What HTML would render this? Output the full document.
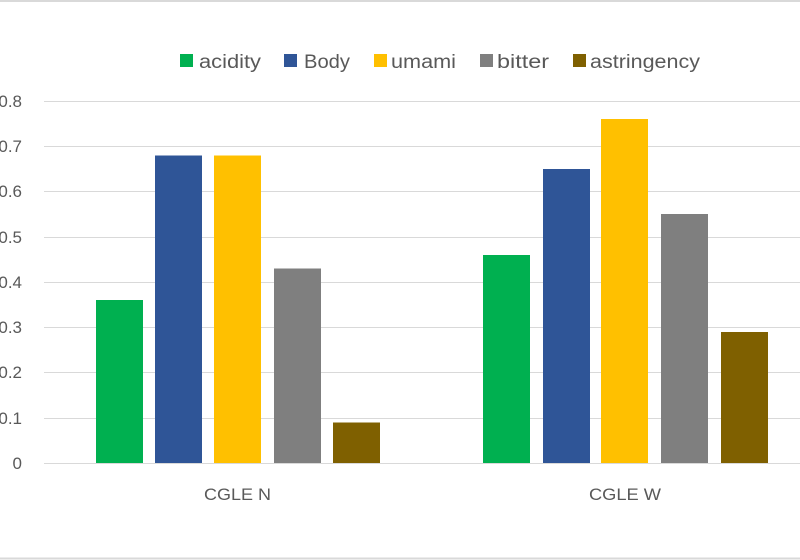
<!DOCTYPE html>
<html><head><meta charset="utf-8"><style>
html,body{margin:0;padding:0;background:#fff;}
svg{display:block;font-family:"Liberation Sans",sans-serif;}
</style></head><body>
<svg width="800" height="560" viewBox="0 0 800 560" xmlns="http://www.w3.org/2000/svg">
<rect x="0" y="0" width="800" height="560" fill="#fff"/>
<line x1="0" y1="1" x2="800" y2="1" stroke="#d9d9d9" stroke-width="2"/>
<line x1="0" y1="558.5" x2="800" y2="558.5" stroke="#d9d9d9" stroke-width="2"/>
<g stroke="#d9d9d9" stroke-width="1">
<line x1="44" x2="800" y1="101.5" y2="101.5"/>
<line x1="44" x2="800" y1="146.5" y2="146.5"/>
<line x1="44" x2="800" y1="191.5" y2="191.5"/>
<line x1="44" x2="800" y1="237.5" y2="237.5"/>
<line x1="44" x2="800" y1="282.5" y2="282.5"/>
<line x1="44" x2="800" y1="327.5" y2="327.5"/>
<line x1="44" x2="800" y1="372.5" y2="372.5"/>
<line x1="44" x2="800" y1="418.5" y2="418.5"/>
<line x1="44" x2="800" y1="463.5" y2="463.5"/>
</g>
<g font-size="17" fill="#595959" text-anchor="end">
<text x="22" y="107">0.8</text>
<text x="22" y="152">0.7</text>
<text x="22" y="197">0.6</text>
<text x="22" y="243">0.5</text>
<text x="22" y="288">0.4</text>
<text x="22" y="333">0.3</text>
<text x="22" y="378">0.2</text>
<text x="22" y="424">0.1</text>
<text x="22" y="469">0</text>
</g>
<g>
<rect x="96" y="300" width="47" height="163" fill="#00b050"/>
<rect x="155" y="155.5" width="47" height="307.5" fill="#2f5597"/>
<rect x="214" y="155.5" width="47" height="307.5" fill="#ffc000"/>
<rect x="274" y="268.5" width="47" height="194.5" fill="#7f7f7f"/>
<rect x="333" y="422.5" width="47" height="40.5" fill="#7f6000"/>
<rect x="483" y="255" width="47" height="208" fill="#00b050"/>
<rect x="543" y="169" width="47" height="294" fill="#2f5597"/>
<rect x="601" y="119" width="47" height="344" fill="#ffc000"/>
<rect x="661" y="214" width="47" height="249" fill="#7f7f7f"/>
<rect x="721" y="332" width="47" height="131" fill="#7f6000"/>
</g>
<g font-size="17" fill="#595959">
<text x="204" y="500" textLength="67" lengthAdjust="spacingAndGlyphs">CGLE N</text>
<text x="589" y="500" textLength="72" lengthAdjust="spacingAndGlyphs">CGLE W</text>
</g>
<g font-size="19" fill="#595959">
<rect x="180" y="54" width="13" height="13" fill="#00b050"/><text x="199" y="68" textLength="62" lengthAdjust="spacingAndGlyphs">acidity</text>
<rect x="284" y="54" width="13" height="13" fill="#2f5597"/><text x="304" y="68" textLength="46" lengthAdjust="spacingAndGlyphs">Body</text>
<rect x="374" y="54" width="13" height="13" fill="#ffc000"/><text x="391" y="68" textLength="65" lengthAdjust="spacingAndGlyphs">umami</text>
<rect x="480" y="54" width="13" height="13" fill="#7f7f7f"/><text x="497" y="68" textLength="52" lengthAdjust="spacingAndGlyphs">bitter</text>
<rect x="573" y="54" width="13" height="13" fill="#7f6000"/><text x="590" y="68" textLength="110" lengthAdjust="spacingAndGlyphs">astringency</text>
</g>
</svg>
</body></html>
